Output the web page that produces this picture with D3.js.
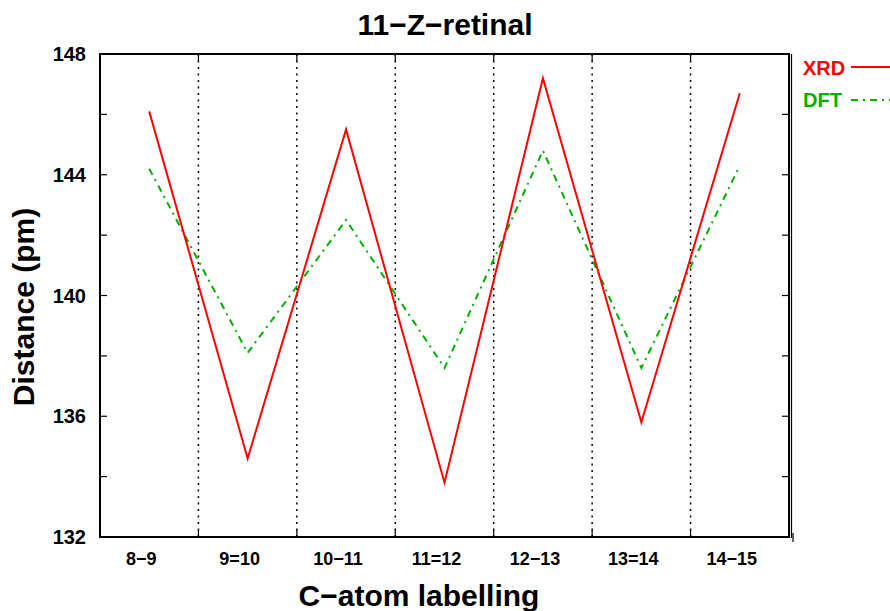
<!DOCTYPE html>
<html>
<head>
<meta charset="utf-8">
<script src="https://cdn.jsdelivr.net/npm/d3@7"></script>
<style>
  body { margin: 0; background: #fff; }
  text { font-family: "Liberation Sans", Arial, sans-serif; font-weight: bold; }
</style>
</head>
<body>
<div id="chart"></div>
<script>
// bond labels along the chain
const bonds = ['8\u22129', '9=10', '10\u221211', '11=12', '12\u221213', '13=14', '14\u221215'];
// bond lengths in pm
const xrd = [146.1, 134.6, 145.5, 133.8, 147.2, 135.8, 146.7];
const dft = [144.2, 138.1, 142.5, 137.6, 144.8, 137.6, 144.3];
const yTicks = [132, 136, 140, 144, 148];
const yMinor = [134, 138, 142, 146];

const W = 890, H = 611;
const m = { left: 100, top: 54, right: 789, bottom: 537 };

const svg = d3.select('#chart').append('svg')
  .attr('width', W).attr('height', H);

const x = d3.scaleBand().domain(bonds).range([m.left, m.right]);
const y = d3.scaleLinear().domain([132, 148]).range([m.bottom, m.top]);

// dotted separators between bonds
const bounds = bonds.slice(1).map(b => x(b));
svg.append('g').selectAll('line').data(bounds).join('line')
  .attr('x1', d => d).attr('x2', d => d)
  .attr('y1', m.top).attr('y2', m.bottom)
  .attr('stroke', '#000').attr('stroke-width', 1.5)
  .attr('stroke-dasharray', '2,4.5');

// ticks on the frame
const tick = svg.append('g').attr('stroke', '#000').attr('stroke-width', 1.2);
yTicks.concat(yMinor).forEach(v => {
  tick.append('line').attr('x1', m.left).attr('x2', m.left + 7).attr('y1', y(v)).attr('y2', y(v));
  tick.append('line').attr('x1', m.right - 7).attr('x2', m.right).attr('y1', y(v)).attr('y2', y(v));
});
bounds.forEach(b => {
  tick.append('line').attr('x1', b).attr('x2', b).attr('y1', m.bottom).attr('y2', m.bottom - 7);
  tick.append('line').attr('x1', b).attr('x2', b).attr('y1', m.top).attr('y2', m.top + 7);
});
tick.append('line').attr('x1', m.right + 4).attr('x2', m.right + 4).attr('y1', m.bottom - 4).attr('y2', m.bottom + 5);

// frame
svg.append('rect')
  .attr('x', m.left).attr('y', m.top)
  .attr('width', m.right - m.left).attr('height', m.bottom - m.top)
  .attr('fill', 'none').attr('stroke', '#000').attr('stroke-width', 2);
svg.append('line')
  .attr('x1', m.right + 2.5).attr('x2', m.right + 2.5)
  .attr('y1', m.top).attr('y2', m.bottom + 1)
  .attr('stroke', '#000').attr('stroke-width', 1.2);

// tick labels
svg.append('g').selectAll('text').data(yTicks).join('text')
  .attr('x', 86).attr('y', d => y(d) + 7)
  .attr('text-anchor', 'end').attr('font-size', 20)
  .text(d => d);
svg.append('g').selectAll('text').data(bonds).join('text')
  .attr('x', d => x(d) + x.bandwidth() / 2 - 8).attr('y', 565)
  .attr('text-anchor', 'middle').attr('font-size', 18)
  .text(d => d);

// series
const line = d3.line()
  .x((d, i) => x(bonds[i]) + x.bandwidth() / 2)
  .y(d => y(d));

svg.append('path').datum(dft)
  .attr('d', line).attr('fill', 'none')
  .attr('stroke', '#00b000').attr('stroke-width', 2)
  .attr('stroke-dasharray', '7,5,2,5');
svg.append('path').datum(xrd)
  .attr('d', line).attr('fill', 'none')
  .attr('stroke', '#ff0000').attr('stroke-width', 2);

// legend
svg.append('text').attr('x', 803).attr('y', 75).attr('font-size', 20)
  .attr('fill', '#ff0000').text('XRD');
svg.append('line').attr('x1', 851).attr('x2', 892).attr('y1', 67).attr('y2', 67)
  .attr('stroke', '#ff0000').attr('stroke-width', 2);
svg.append('text').attr('x', 803).attr('y', 107).attr('font-size', 20)
  .attr('fill', '#00b000').text('DFT');
svg.append('line').attr('x1', 851).attr('x2', 892).attr('y1', 100).attr('y2', 100)
  .attr('stroke', '#00b000').attr('stroke-width', 2)
  .attr('stroke-dasharray', '7,5,2,5');

// titles
svg.append('text').attr('x', 445).attr('y', 35)
  .attr('text-anchor', 'middle').attr('font-size', 30)
  .text('11\u2212Z\u2212retinal');
svg.append('text').attr('x', 419).attr('y', 606)
  .attr('text-anchor', 'middle').attr('font-size', 30)
  .text('C\u2212atom labelling');
svg.append('text')
  .attr('transform', 'translate(34,307) rotate(-90)')
  .attr('text-anchor', 'middle').attr('font-size', 30)
  .text('Distance (pm)');
</script>
</body>
</html>
